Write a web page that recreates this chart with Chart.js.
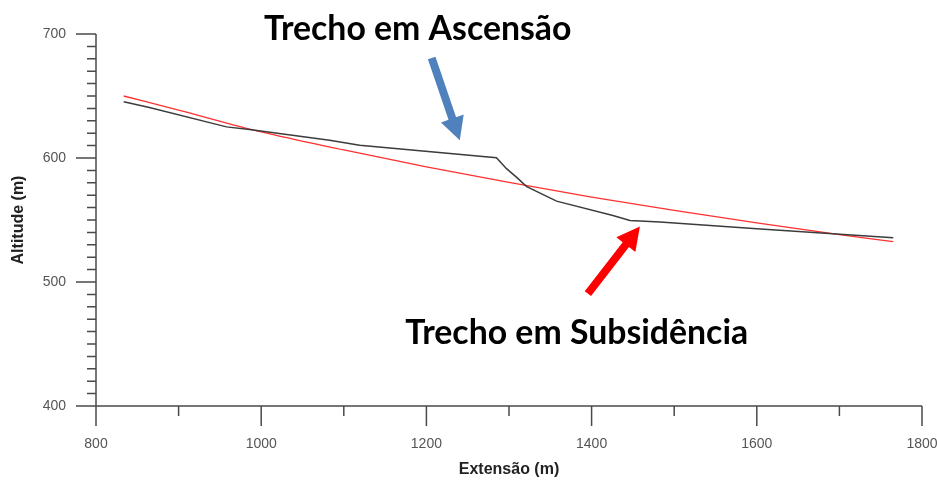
<!DOCTYPE html>
<html>
<head>
<meta charset="utf-8">
<script src="https://cdn.jsdelivr.net/npm/chart.js@4.4.0/dist/chart.umd.min.js"></script>
<style>
  html, body { margin: 0; padding: 0; background: #fff; }
</style>
</head>
<body>
<canvas id="profileCanvas" width="937" height="482"></canvas>
<script>
// perfil do terreno (linha preta)
var profileX = [833.5, 864.6, 958, 985.8, 1082.8, 1119.2, 1284.8, 1297, 1310, 1321, 1337, 1357.6, 1425.8, 1446.4, 1482.8, 1600, 1765.2];
var profileY = [645.3, 640.7, 625.1, 623.0, 614.3, 610.3, 600.2, 591.4, 584, 577.1, 571.9, 565.2, 553.7, 549.6, 548.3, 542.9, 535.7];

// tendencia (linha vermelha)
var trendX = [833.5, 900, 1000, 1100, 1200, 1300, 1400, 1500, 1600, 1700, 1765.2];
var trendY = [650, 638.7, 621, 606.5, 592.8, 580.3, 568.5, 557.7, 547.7, 538.2, 532.5];

// eixos
var xMin = 800, xMax = 1800, xLabelStep = 200, xMinorStep = 100;
var yMin = 400, yMax = 700, yLabelStep = 100, yMinorStep = 10;

// anotacoes (em coordenadas do grafico)
var noteText = ['Trecho em Ascensão', 'Trecho em Subsidência'];
var noteX = [1189.5, 1382];
var noteY = [695.1, 450];
var arrowFrom = [[1206.4, 680.6], [1395.5, 490.6]];
var arrowTo = [[1240.4, 614.3], [1458.5, 544.8]];
var arrowColor = ['#4f81bd', '#ff0000'];

function toPoints(xs, ys) {
    var pts = [];
    for (let i = 0; i < xs.length; i++) {
        pts.push({x: xs[i], y: ys[i]});
    }
    return pts;
}

var axesPlugin = {
    id: 'axesPlugin',
    afterDraw: function (chart) {
        var c = chart.ctx, a = chart.chartArea;
        var xs = chart.scales.x, ys = chart.scales.y;
        c.save();
        c.strokeStyle = '#4a4a4a';
        c.lineWidth = 1.5;
        c.beginPath();
        c.moveTo(a.left - 20, a.bottom);
        c.lineTo(a.right, a.bottom);
        c.moveTo(a.left, a.top);
        c.lineTo(a.left, a.bottom + 20);
        for (let v = xMin; v <= xMax; v += xMinorStep) {
            let px = xs.getPixelForValue(v);
            let len = (v % xLabelStep === 0) ? 20 : 10;
            c.moveTo(px, a.bottom);
            c.lineTo(px, a.bottom + len);
        }
        for (let v = yMin; v <= yMax; v += yMinorStep) {
            let py = ys.getPixelForValue(v);
            let len = (v % yLabelStep === 0) ? 20 : 9;
            c.moveTo(a.left, py);
            c.lineTo(a.left - len, py);
        }
        c.stroke();
        c.restore();
    }
};

function drawArrow(c, x0, y0, x1, y1, color) {
    var dx = x1 - x0, dy = y1 - y0;
    var len = Math.sqrt(dx * dx + dy * dy);
    var ux = dx / len, uy = dy / len, nx = -uy, ny = ux;
    var sw = 4, hw = 12, hl = 23;
    var bx = x1 - ux * hl, by = y1 - uy * hl;
    c.fillStyle = color;
    c.beginPath();
    c.moveTo(x0 + nx * sw, y0 + ny * sw);
    c.lineTo(bx + nx * sw, by + ny * sw);
    c.lineTo(bx + nx * hw, by + ny * hw);
    c.lineTo(x1, y1);
    c.lineTo(bx - nx * hw, by - ny * hw);
    c.lineTo(bx - nx * sw, by - ny * sw);
    c.lineTo(x0 - nx * sw, y0 - ny * sw);
    c.closePath();
    c.fill();
}

var notesPlugin = {
    id: 'notesPlugin',
    afterDraw: function (chart) {
        var c = chart.ctx;
        var xs = chart.scales.x, ys = chart.scales.y;
        c.save();
        for (let i = 0; i < arrowFrom.length; i++) {
            drawArrow(c,
                xs.getPixelForValue(arrowFrom[i][0]), ys.getPixelForValue(arrowFrom[i][1]),
                xs.getPixelForValue(arrowTo[i][0]), ys.getPixelForValue(arrowTo[i][1]),
                arrowColor[i]);
        }
        // ajusta o tamanho da fonte pela largura do texto
        c.font = 'bold 30px Lato';
        var size = 30 * 307 / c.measureText(noteText[0]).width;
        c.font = 'bold ' + size.toFixed(1) + 'px Lato';
        c.fillStyle = '#000';
        c.textAlign = 'center';
        c.textBaseline = 'alphabetic';
        for (let i = 0; i < noteText.length; i++) {
            c.fillText(noteText[i], xs.getPixelForValue(noteX[i]), ys.getPixelForValue(noteY[i]));
        }
        c.restore();
    }
};

var tickFont = {family: "'Liberation Sans', Arial, sans-serif", size: 14};
var titleFont = {family: "'Liberation Sans', Arial, sans-serif", size: 16, weight: 'bold'};
var hiddenGrid = {display: true, drawOnChartArea: false, drawTicks: true, tickLength: 20, tickColor: 'rgba(0,0,0,0)'};
var plainLabel = function (value) { return String(value); };

new Chart(document.getElementById('profileCanvas'), {
    type: 'scatter',
    data: {
        datasets: [
            {
                label: 'Perfil',
                data: toPoints(profileX, profileY),
                showLine: true,
                borderColor: '#3c3c3c',
                borderWidth: 1.5,
                pointRadius: 0,
                tension: 0
            },
            {
                label: 'Tendência',
                data: toPoints(trendX, trendY),
                showLine: true,
                borderColor: '#ff3030',
                borderWidth: 1.3,
                pointRadius: 0,
                cubicInterpolationMode: 'monotone'
            }
        ]
    },
    options: {
        responsive: false,
        animation: false,
        devicePixelRatio: 1,
        layout: {padding: {top: 34, right: 0, left: 0, bottom: 0}},
        plugins: {
            legend: {display: false},
            tooltip: {enabled: false}
        },
        scales: {
            x: {
                type: 'linear',
                min: xMin,
                max: xMax,
                ticks: {stepSize: xLabelStep, font: tickFont, color: '#555', padding: 10, maxRotation: 0, callback: plainLabel},
                grid: hiddenGrid,
                border: {display: false},
                title: {display: true, text: 'Extensão (m)', font: titleFont, color: '#222', padding: {top: 0, bottom: 3}},
                afterFit: function (s) {
                    s.height = 76;
                    s.paddingLeft = 0;
                    s.paddingRight = 15;
                }
            },
            y: {
                type: 'linear',
                min: yMin,
                max: yMax,
                ticks: {stepSize: yLabelStep, font: tickFont, color: '#555', padding: 10, callback: plainLabel},
                grid: hiddenGrid,
                border: {display: false},
                title: {display: true, text: 'Altitude (m)', font: titleFont, color: '#222', padding: {top: 9, bottom: 0}},
                afterFit: function (s) { s.width = 96; }
            }
        }
    },
    plugins: [axesPlugin, notesPlugin]
});
</script>
</body>
</html>
